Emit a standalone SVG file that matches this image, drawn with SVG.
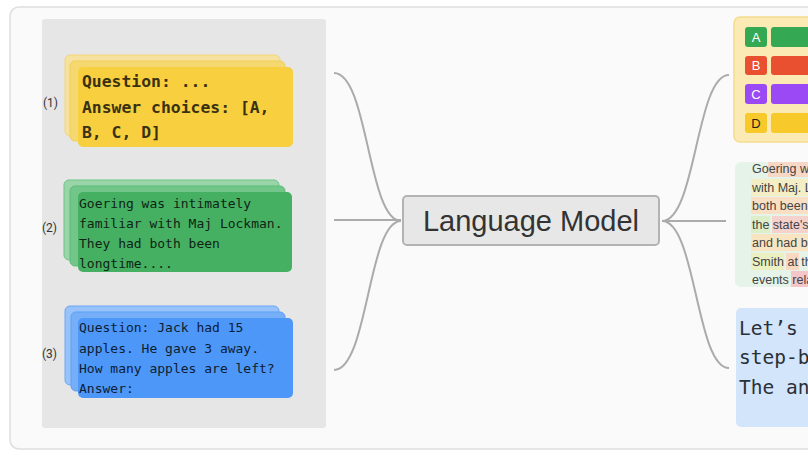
<svg xmlns="http://www.w3.org/2000/svg" width="808" height="455" viewBox="0 0 808 455">
<style>
.mono{font-family:"DejaVu Sans Mono","Liberation Mono",monospace;}
.sans{font-family:"Liberation Sans","Noto Sans",Arial,sans-serif;}
.lbl{font-family:"Roboto","Liberation Sans",Arial,sans-serif;font-size:12px;fill:#333;}
.conn{fill:none;stroke:#ababab;stroke-width:2;}
.ytxt{font-size:16.4px;font-weight:bold;fill:#3a3112;}
.gtxt{font-size:13px;fill:#0f2414;}
.btxt{font-size:13px;fill:#0d1d33;}
.opt{font-family:"Liberation Sans",Arial,sans-serif;font-size:13px;fill:#fff;text-anchor:middle;}
.mid{font-size:12.5px;fill:#444;}
</style>
<defs>
<clipPath id="midclip"><rect x="735" y="162" width="80" height="125" rx="6"/></clipPath>
</defs>
<rect x="0" y="0" width="808" height="455" fill="#ffffff"/>
<rect x="10" y="7" width="820" height="442" rx="9" fill="#fafafa" stroke="#dedede" stroke-width="1.5"/>
<rect x="42" y="19" width="284" height="409" rx="3" fill="#e6e6e6"/>

<g id="connectors">
<path class="conn" d="M334,73 C368,73 368,221 401,221"/>
<path class="conn" d="M334,220 H401"/>
<path class="conn" d="M334,370 C368,370 368,221 401,221"/>
<path class="conn" d="M662,221 C696,221 696,75 729,75"/>
<path class="conn" d="M662,221 H726"/>
<path class="conn" d="M662,221 C696,221 696,368 729,368"/>
</g>

<g id="prompt1">
<rect x="65" y="55" width="215" height="81" rx="5" fill="#f6e29e" stroke="#f2d67a" stroke-width="1"/>
<rect x="70" y="61" width="215" height="80" rx="5" fill="#f5d86f" stroke="#f0cf5c" stroke-width="1"/>
<rect x="78" y="67" width="215" height="80" rx="5" fill="#f8cf3f"/>
<text class="mono ytxt" x="82" y="87">Question: ...</text>
<text class="mono ytxt" x="82" y="113">Answer choices: [A,</text>
<text class="mono ytxt" x="82" y="138">B, C, D]</text>
<text class="lbl" x="43" y="107">(1)</text>
</g>

<g id="prompt2">
<rect x="64" y="180" width="215" height="80" rx="5" fill="#9ad5a9" stroke="#6cc585" stroke-width="1"/>
<rect x="70" y="186" width="215" height="80" rx="5" fill="#73c68a" stroke="#5bbd74" stroke-width="1"/>
<rect x="78" y="192" width="214" height="80" rx="5" fill="#45b062"/>
<text class="mono gtxt" x="79" y="208">Goering was intimately</text>
<text class="mono gtxt" x="79" y="228">familiar with Maj Lockman.</text>
<text class="mono gtxt" x="79" y="248">They had both been</text>
<text class="mono gtxt" x="79" y="268">longtime....</text>
<text class="lbl" x="42" y="232">(2)</text>
</g>

<g id="prompt3">
<rect x="65" y="306" width="214" height="79" rx="5" fill="#98c3fa" stroke="#6aa6f6" stroke-width="1"/>
<rect x="71" y="312" width="214" height="79" rx="5" fill="#76aff8" stroke="#5d9ff5" stroke-width="1"/>
<rect x="78" y="318" width="215" height="80" rx="5" fill="#4c97f8"/>
<text class="mono btxt" x="79" y="332">Question: Jack had 15</text>
<text class="mono btxt" x="79" y="353">apples. He gave 3 away.</text>
<text class="mono btxt" x="79" y="373">How many apples are left?</text>
<text class="mono btxt" x="79" y="393">Answer:</text>
<text class="lbl" x="42" y="358">(3)</text>
</g>

<g id="language-model">
<rect x="403" y="196" width="256" height="49" rx="4" fill="#e7e7e7" stroke="#b3b3b3" stroke-width="2"/>
<text class="sans" x="531" y="231" font-size="29" fill="#333" text-anchor="middle">Language Model</text>
</g>

<g id="output-choices">
<rect x="734" y="17" width="100" height="125" rx="6" fill="#fbeab3" stroke="#f5dc8e" stroke-width="1.5"/>
<rect x="745" y="27" width="22" height="20" rx="3" fill="#34a853"/>
<rect x="771" y="27" width="60" height="20" rx="3" fill="#34a853"/>
<text class="opt" x="756" y="42">A</text>
<rect x="745" y="56" width="22" height="19" rx="3" fill="#e8502f"/>
<rect x="771" y="56" width="60" height="19" rx="3" fill="#e8502f"/>
<text class="opt" x="756" y="70">B</text>
<rect x="745" y="84" width="22" height="20" rx="3" fill="#9a49f4"/>
<rect x="771" y="84" width="60" height="20" rx="3" fill="#9a49f4"/>
<text class="opt" x="756" y="99">C</text>
<rect x="745" y="113" width="22" height="20" rx="3" fill="#f7c92a"/>
<rect x="771" y="113" width="60" height="20" rx="3" fill="#f7c92a"/>
<text class="opt" x="756" y="128" style="fill:#222">D</text>
</g>

<g id="output-text">
<rect x="735" y="162" width="100" height="125" rx="6" fill="#e5f3e8"/>
<g clip-path="url(#midclip)">
<rect x="768" y="160" width="45" height="17" fill="#f7d8c6"/>
<rect x="751" y="179" width="62" height="17" fill="#f3eec4"/>
<rect x="751" y="197" width="62" height="17" fill="#f9dfc4"/>
<rect x="751" y="216" width="19" height="17" fill="#dcefc9"/>
<rect x="772" y="216" width="41" height="17" fill="#f6d2cd"/>
<rect x="751" y="234" width="62" height="17" fill="#f8e4c0"/>
<rect x="751" y="253" width="33" height="17" fill="#ebf0c3"/>
<rect x="786" y="253" width="13" height="17" fill="#f9d9c2"/>
<rect x="791" y="271" width="22" height="17" fill="#f4c6c9"/>
<text class="sans mid" x="752" y="173">Goering w</text>
<text class="sans mid" x="752" y="192">with Maj. L</text>
<text class="sans mid" x="752" y="210">both been</text>
<text class="sans mid" x="752" y="229">the state's</text>
<text class="sans mid" x="752" y="247">and had be</text>
<text class="sans mid" x="752" y="266">Smith at th</text>
<text class="sans mid" x="752" y="284">events rela</text>
</g>
</g>

<g id="output-cot">
<rect x="736" y="308" width="100" height="119" rx="5" fill="#d3e5fb"/>
<text class="mono" x="739" y="335" font-size="19.5" fill="#2b2f36">Let’s</text>
<text class="mono" x="739" y="364" font-size="19.5" fill="#2b2f36">step-b</text>
<text class="mono" x="739" y="394" font-size="19.5" fill="#2b2f36">The an</text>
</g>
</svg>
